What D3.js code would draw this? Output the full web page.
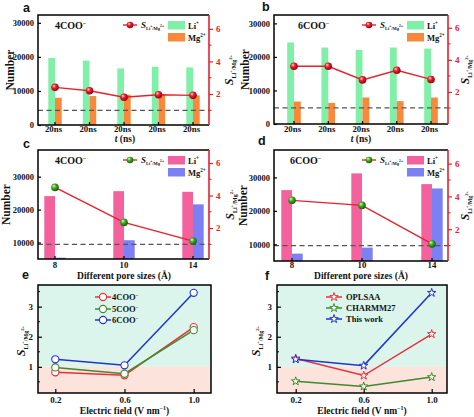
<!DOCTYPE html>
<html><head><meta charset="utf-8">
<script src="https://cdn.jsdelivr.net/npm/d3@7"></script>
<style>
body{margin:0;background:#fff}
svg{display:block}
text{font-family:"Liberation Serif","Times New Roman",serif;font-weight:bold;fill:#111}
</style>
</head><body><svg id="chart" width="474" height="417"></svg>
<script>
// ---------- data ----------
const timeLabels = ["20ns","20ns","20ns","20ns","20ns"];
const li4COO = [19700, 18900, 16600, 17100, 16900];
const mg4COO = [8000, 8500, 8900, 8900, 8700];
const s4COO  = [2.41, 2.2, 1.8, 1.96, 1.92];

const li6COO = [24300, 22800, 22100, 22800, 22500];
const mg6COO = [6700, 6300, 7900, 6800, 7900];
const s6COO  = [3.6, 3.6, 2.75, 3.35, 2.78];

const poreLabels = ["8","10","14"];
const liPore4 = [24100, 25600, 25400];
const mgPore4 = [5400, 10700, 21600];
const sPore4  = [4.5, 2.35, 1.2];
const liPore6 = [26200, 31200, 28000];
const mgPore6 = [7200, 9000, 26700];
const sPore6  = [3.76, 3.45, 1.1];

const fieldValues = [0.2, 0.6, 1.0];
const fieldTickLabels = ["0.2","0.6","1.0"];
const eSeriesNames = ["4COO","5COO","6COO"];
const e4COO = [0.82, 0.72, 2.32];
const e5COO = [0.98, 0.77, 2.22];
const e6COO = [1.25, 1.05, 3.46];
const fSeriesNames = ["OPLSAA","CHARMM27","This work"];
const fOPLSAA = [1.28, 0.71, 2.09];
const fCHARMM = [0.52, 0.35, 0.66];
const fThisWork = [1.25, 1.04, 3.46];

// ---------- setup ----------
const svg = d3.select("#chart");
const defs = svg.append("defs");
function ballGrad(id, light, mid, dark){
  const g = defs.append("radialGradient").attr("id", id).attr("cx","40%").attr("cy","40%").attr("r","60%").attr("fx","35%").attr("fy","30%");
  g.append("stop").attr("offset","0%").attr("stop-color", light);
  g.append("stop").attr("offset","45%").attr("stop-color", mid);
  g.append("stop").attr("offset","100%").attr("stop-color", dark);
}
ballGrad("redBall", "#ffd6d6", "#ee1c2a", "#9a0010");
ballGrad("greenBall", "#d8ffc0", "#3fae22", "#1a5e0c");

const RED = "#e8202c";
function sLabel(sel, x, y, size, rotate, anchor){
  const t = sel.append("text").attr("transform", `translate(${x},${y}) rotate(${rotate})`).attr("text-anchor", anchor);
  t.append("tspan").text("S").style("font-style","italic").attr("font-size", size);
  t.append("tspan").text("Li").attr("font-size", size*0.5).attr("dy", size*0.25);
  t.append("tspan").text("+").attr("font-size", size*0.4).attr("dy", -size*0.35);
  t.append("tspan").text("/Mg").attr("font-size", size*0.5).attr("dy", size*0.35);
  t.append("tspan").text("2+").attr("font-size", size*0.4).attr("dy", -size*0.35);
  return t;
}
function supText(sel, x, y, base, sup, size, anchor){
  const t = sel.append("text").attr("x", x).attr("y", y).attr("font-size", size).attr("text-anchor", anchor||"start");
  t.append("tspan").text(base);
  t.append("tspan").text(sup).attr("font-size", size*0.6).attr("dy", -size*0.4);
  return t;
}
function letter(x, y, s){
  svg.append("text").attr("x", x).attr("y", y).text(s).attr("font-size", 12.5)
    .style("font-family","'Liberation Sans',Arial,sans-serif").style("font-weight","bold");
}

// ---------- bar panels ----------
function barPanel(o){
  const g = svg.append("g");
  const x = d3.scalePoint().domain(d3.range(o.cats.length)).range([o.x0 + o.padL, o.x1 - o.padR]);
  const yL = d3.scaleLinear().domain(o.leftDomain).range([o.y1, o.y0]);
  const yR = d3.scaleLinear().domain(o.rightDomain).range([o.y1, o.y0]);
  const bw = o.barW;
  // bars
  g.selectAll(".li").data(o.li).join("rect")
    .attr("x", (d,i) => x(i) - bw).attr("width", bw)
    .attr("y", d => yL(d)).attr("height", d => o.y1 - yL(d)).attr("fill", o.colLi);
  g.selectAll(".mg").data(o.mg).join("rect")
    .attr("x", (d,i) => x(i)).attr("width", bw)
    .attr("y", d => yL(d)).attr("height", d => o.y1 - yL(d)).attr("fill", o.colMg);
  // dashed line S = 1
  g.append("line").attr("x1", o.x0).attr("x2", o.x1).attr("y1", yR(1)).attr("y2", yR(1))
    .attr("stroke", "#555").attr("stroke-width", 1.2).attr("stroke-dasharray", "5,3.5");
  // S line
  const line = d3.line().x((d,i) => x(i)).y(d => yR(d));
  g.append("path").datum(o.s).attr("d", line).attr("fill","none").attr("stroke", RED).attr("stroke-width", 1.4);
  g.selectAll(".ball").data(o.s).join("circle")
    .attr("cx", (d,i) => x(i)).attr("cy", d => yR(d)).attr("r", 3.8).attr("fill", `url(#${o.ball})`);
  // frame
  g.append("path").attr("d", `M${o.x1},${o.y0}H${o.x0}V${o.y1}H${o.x1}`).attr("fill","none").attr("stroke","#000").attr("stroke-width",1.5);
  // left axis
  const axL = d3.axisLeft(yL).tickValues(o.leftTicks).tickFormat(d3.format("d")).tickSizeInner(-3).tickSizeOuter(0).tickPadding(4);
  const gl = g.append("g").attr("transform", `translate(${o.x0},0)`).call(axL);
  gl.select(".domain").remove();
  gl.selectAll("line").attr("stroke","#000").attr("stroke-width",1.2);
  gl.selectAll("text").attr("font-size", 8.5).style("font-family","'Liberation Serif',serif").style("font-weight","bold").attr("fill","#111");
  // right axis (red)
  const axR = d3.axisRight(yR).tickValues([2,4,6]).tickFormat(d3.format("d")).tickSizeInner(4).tickSizeOuter(0).tickPadding(3);
  const gr = g.append("g").attr("transform", `translate(${o.x1},0)`).call(axR);
  gr.select(".domain").attr("stroke", RED).attr("stroke-width", 1.6).attr("d", `M0,${o.y0}V${o.y1}`);
  gr.selectAll("line").attr("stroke", RED).attr("stroke-width",1.2);
  gr.selectAll("text").attr("font-size", 9).attr("fill", RED).style("fill", RED).style("font-family","'Liberation Serif',serif").style("font-weight","bold");
  g.selectAll(".minorR").data([1,3,5]).join("line")
    .attr("x1", o.x1).attr("x2", o.x1 + 2.5).attr("y1", d => yR(d)).attr("y2", d => yR(d))
    .attr("stroke", RED).attr("stroke-width", 1.1);
  // bottom ticks + labels
  g.selectAll(".bt").data(o.cats).join("line")
    .attr("x1", (d,i) => x(i)).attr("x2", (d,i) => x(i)).attr("y1", o.y1).attr("y2", o.y1 - 3)
    .attr("stroke","#000").attr("stroke-width",1.2);
  g.selectAll(".bl").data(o.cats).join("text")
    .attr("x", (d,i) => x(i) + o.labelShift).attr("y", o.tickY).attr("text-anchor","middle").attr("font-size", 8.8).text(d => d);
  // titles
  g.append("text").attr("transform", `translate(${o.numX},${(o.y0+o.y1)/2}) rotate(-90)`)
    .attr("text-anchor","middle").attr("font-size", 11.5).text("Number");
  sLabel(g, o.sX, (o.y0+o.y1)/2, o.sSize, -90, "middle");
  supText(g, o.tagX, o.y0 + 13.5, o.tag, "−", 10, "start");
  // legend
  const lx = o.x1 - 86, ly = o.y0 + 10;
  g.append("line").attr("x1", lx).attr("x2", lx + 14).attr("y1", ly).attr("y2", ly).attr("stroke", RED).attr("stroke-width", 1.4);
  g.append("circle").attr("cx", lx + 7).attr("cy", ly).attr("r", 3.3).attr("fill", `url(#${o.ball})`);
  sLabel(g, lx + 18, ly + 3, 9, 0, "start");
  const sx = o.x1 - 41;
  g.append("rect").attr("x", sx).attr("y", o.y0 + 6).attr("width", 17).attr("height", 8.5).attr("fill", o.colLi);
  g.append("rect").attr("x", sx).attr("y", o.y0 + 18).attr("width", 17).attr("height", 8.5).attr("fill", o.colMg);
  supText(g, sx + 20, o.y0 + 13.5, "Li", "+", 8.5);
  supText(g, sx + 20, o.y0 + 25.5, "Mg", "2+", 8.5);
}

const GREEN = "#80efa8", ORANGE = "#f7883c", PINK = "#f4629d", BLUE = "#7b80f3";

barPanel({x0:38, x1:209, y0:15, y1:125, leftDomain:[0,32300], rightDomain:[0.1,6.85], leftTicks:[0,10000,20000,30000],
  cats:timeLabels, li:li4COO, mg:mg4COO, s:s4COO, padL:17, padR:16, barW:6.7, colLi:GREEN, colMg:ORANGE, ball:"redBall",
  tickY:132, labelShift:-1.5, numX:14, sX:233, sSize:12, tag:"4COO", tagX:55});
barPanel({x0:274, x1:448, y0:15, y1:124, leftDomain:[0,32500], rightDomain:[0,6.8], leftTicks:[0,10000,20000,30000],
  cats:timeLabels, li:li6COO, mg:mg6COO, s:s6COO, padL:20, padR:17, barW:6.8, colLi:GREEN, colMg:ORANGE, ball:"redBall",
  tickY:132, labelShift:-1.5, numX:249, sX:469, sSize:11.5, tag:"6COO", tagX:298});
barPanel({x0:38, x1:209, y0:150, y1:259, leftDomain:[5000,38100], rightDomain:[0.1,6.8], leftTicks:[10000,20000,30000],
  cats:poreLabels, li:liPore4, mg:mgPore4, s:sPore4, padL:17, padR:16, barW:10.7, colLi:PINK, colMg:BLUE, ball:"greenBall",
  tickY:267.5, labelShift:0, numX:10, sX:234, sSize:12, tag:"4COO", tagX:55});
barPanel({x0:274, x1:448, y0:150, y1:261, leftDomain:[5000,38200], rightDomain:[0.06,6.83], leftTicks:[10000,20000,30000],
  cats:poreLabels, li:liPore6, mg:mgPore6, s:sPore6, padL:18, padR:16, barW:10.7, colLi:PINK, colMg:BLUE, ball:"greenBall",
  tickY:268, labelShift:0, numX:247, sX:469, sSize:11.5, tag:"6COO", tagX:290});

// x-axis titles for bar panels
[125, 361].forEach(cx => {
  const t = svg.append("text").attr("x", cx).attr("y", 141.5).attr("text-anchor","middle").attr("font-size", 9.5);
  t.append("tspan").text("t").style("font-style","italic");
  t.append("tspan").text(" (ns)");
});
[124, 361].forEach(cx => {
  svg.append("text").attr("x", cx).attr("y", 278.5).attr("text-anchor","middle").attr("font-size", 9.5).text("Different pore sizes (Å)");
});

// ---------- line panels ----------
function linePanel(o){
  const g = svg.append("g");
  const x = d3.scaleLinear().domain(o.xDomain).range([o.x0, o.x1]);
  const y = d3.scaleLinear().domain(o.yDomain).range([o.y1, o.y0]);
  g.append("rect").attr("x", o.x0).attr("y", o.y0).attr("width", o.x1 - o.x0).attr("height", y(1) - o.y0).attr("fill", "#dcf5ec");
  g.append("rect").attr("x", o.x0).attr("y", y(1)).attr("width", o.x1 - o.x0).attr("height", o.y1 - y(1)).attr("fill", "#fce3dc");
  const line = d3.line().x((d,i) => x(fieldValues[i])).y(d => y(d));
  o.series.forEach((s, k) => {
    g.append("path").datum(s.values).attr("d", line).attr("fill","none").attr("stroke", s.color).attr("stroke-width", 1.5);
  });
  o.series.forEach((s, k) => {
    drawMarkers(g, s.values.map((v,i) => [x(fieldValues[i]), y(v)]), s.color, o.marker);
  });
  // frame
  g.append("rect").attr("x", o.x0).attr("y", o.y0).attr("width", o.x1 - o.x0).attr("height", o.y1 - o.y0)
    .attr("fill","none").attr("stroke","#000").attr("stroke-width",1.5);
  // axes
  const axB = d3.axisBottom(x).tickValues(fieldValues).tickFormat((d,i) => fieldTickLabels[i]).tickSizeInner(-4).tickSizeOuter(0).tickPadding(3.5);
  const gb = g.append("g").attr("transform", `translate(0,${o.y1})`).call(axB);
  gb.select(".domain").remove();
  gb.selectAll("line").attr("stroke","#000").attr("stroke-width",1.2);
  gb.selectAll("text").attr("font-size", 9).style("font-family","'Liberation Serif',serif").style("font-weight","bold").attr("fill","#111");
  const axL = d3.axisLeft(y).tickValues([1,2,3]).tickFormat(d3.format("d")).tickSizeInner(-4).tickSizeOuter(0).tickPadding(5);
  const gl = g.append("g").attr("transform", `translate(${o.x0},0)`).call(axL);
  gl.select(".domain").remove();
  gl.selectAll("line").attr("stroke","#000").attr("stroke-width",1.2);
  gl.selectAll("text").attr("font-size", 9).style("font-family","'Liberation Serif',serif").style("font-weight","bold").attr("fill","#111");
  g.selectAll(".minY").data([0.5,1.5,2.5,3.5]).join("line")
    .attr("x1", o.x0).attr("x2", o.x0 + 2).attr("y1", d => y(d)).attr("y2", d => y(d)).attr("stroke","#000").attr("stroke-width",1);
  // titles
  sLabel(g, o.sX, (o.y0 + o.y1)/2 + 2, 12, -90, "middle");
  const t = g.append("text").attr("x", (o.x0 + o.x1)/2).attr("y", 414).attr("text-anchor","middle").attr("font-size", 9.5);
  t.append("tspan").text("Electric field (V nm");
  t.append("tspan").text("−1").attr("font-size", 6).attr("dy", -4);
  t.append("tspan").text(")").attr("dy", 4);
  // legend
  o.series.forEach((s, k) => {
    const ly = o.legY[k];
    g.append("line").attr("x1", o.legX).attr("x2", o.legX + 16).attr("y1", ly).attr("y2", ly).attr("stroke", s.color).attr("stroke-width", 1.5);
    drawMarkers(g, [[o.legX + 8, ly]], s.color, o.marker);
    if (o.sup) supText(g, o.legX + 17, ly + 3, s.name, "−", 8.5);
    else g.append("text").attr("x", o.legX + 20).attr("y", ly + 3).attr("font-size", 8.5).text(s.name);
  });
}
function drawMarkers(g, pts, color, type){
  if (type === "circle") {
    g.selectAll(null).data(pts).join("circle").attr("cx", d => d[0]).attr("cy", d => d[1]).attr("r", 3.6)
      .attr("fill", "#fff").attr("stroke", color).attr("stroke-width", 1.1);
  } else {
    const sym = d3.symbol(d3.symbolStar).size(22);
    g.selectAll(null).data(pts).join("path").attr("d", sym).attr("transform", d => `translate(${d[0]},${d[1]})`)
      .attr("fill", "#fff").attr("stroke", color).attr("stroke-width", 1);
  }
}
linePanel({x0:38, x1:211, y0:285, y1:393, xDomain:[0.1,1.1], yDomain:[0.13,3.72], marker:"circle", sup:true,
  sX:25, legX:95, legY:[297,309,320],
  series:[{name:eSeriesNames[0], values:e4COO, color:"#e8303c"},{name:eSeriesNames[1], values:e5COO, color:"#3f8a2c"},{name:eSeriesNames[2], values:e6COO, color:"#2233cc"}]});
linePanel({x0:277, x1:447, y0:285, y1:393, xDomain:[0.09,1.09], yDomain:[0.13,3.72], marker:"star", sup:false,
  sX:260, legX:326, legY:[297,308,319],
  series:[{name:fSeriesNames[0], values:fOPLSAA, color:"#e8303c"},{name:fSeriesNames[1], values:fCHARMM, color:"#3f8a2c"},{name:fSeriesNames[2], values:fThisWork, color:"#2233cc"}]});

// panel letters
letter(23, 12, "a"); letter(262, 11, "b"); letter(23, 148, "c"); letter(258, 145, "d"); letter(22, 279, "e"); letter(265, 280, "f");
</script>
</body></html>
